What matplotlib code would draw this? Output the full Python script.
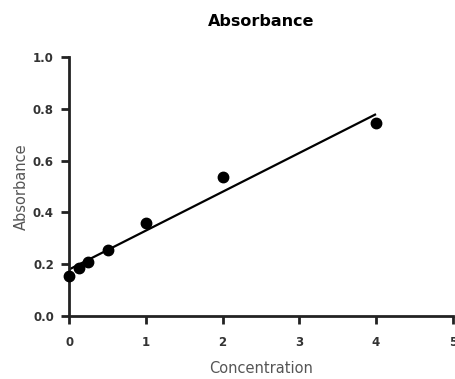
import numpy as np
import matplotlib.pyplot as plt

plt.rcParams['font.family'] = ['DejaVu Sans']

conc = [0, 0.125, 0.25, 0.5, 1, 2, 4]
absorb = [0.156, 0.184, 0.207, 0.253, 0.358, 0.536, 0.745]
xticks = [0, 1, 2, 3, 4, 5]
yticks = [0.0, 0.2, 0.4, 0.6, 0.8, 1.0]

fig = plt.figure(figsize=(4.55, 3.79), dpi=100)
ax = fig.add_axes([0.152, 0.166, 0.843, 0.684])

# linear fit over the measured range
k, b = np.polyfit(conc, absorb, 1)
xf = np.array([min(conc), max(conc)])
ax.plot(xf, k * xf + b, color='black', lw=1.6, solid_capstyle='butt', clip_on=False)
ax.plot(conc, absorb, 'o', color='black', ms=7.5, clip_on=False, zorder=3)

ax.set_xlim(0, 5)
ax.set_ylim(0, 1.0)
ax.set_xticks(xticks)
ax.set_yticks(yticks)
ax.set_xticklabels([str(t) for t in xticks])
ax.set_yticklabels(['%.1f' % t for t in yticks])

for s in ['top', 'right']:
    ax.spines[s].set_visible(False)
for s in ['left', 'bottom']:
    ax.spines[s].set_linewidth(2)
    ax.spines[s].set_color('#222222')
ax.tick_params(direction='out', length=6, width=2, color='#222222',
               labelsize=8.5, labelcolor='#333333')
ax.tick_params(axis='x', pad=8)
ax.tick_params(axis='y', pad=5)
for lab in ax.get_xticklabels() + ax.get_yticklabels():
    lab.set_fontweight('bold')

ax.set_title('Absorbance', fontsize=11.5, fontweight='bold', pad=22)
ax.set_xlabel('Concentration', fontsize=10.5, color='#555555', labelpad=9)
ax.set_ylabel('Absorbance', fontsize=10.5, color='#555555', labelpad=3)

fig.savefig('out.png', dpi=100)
